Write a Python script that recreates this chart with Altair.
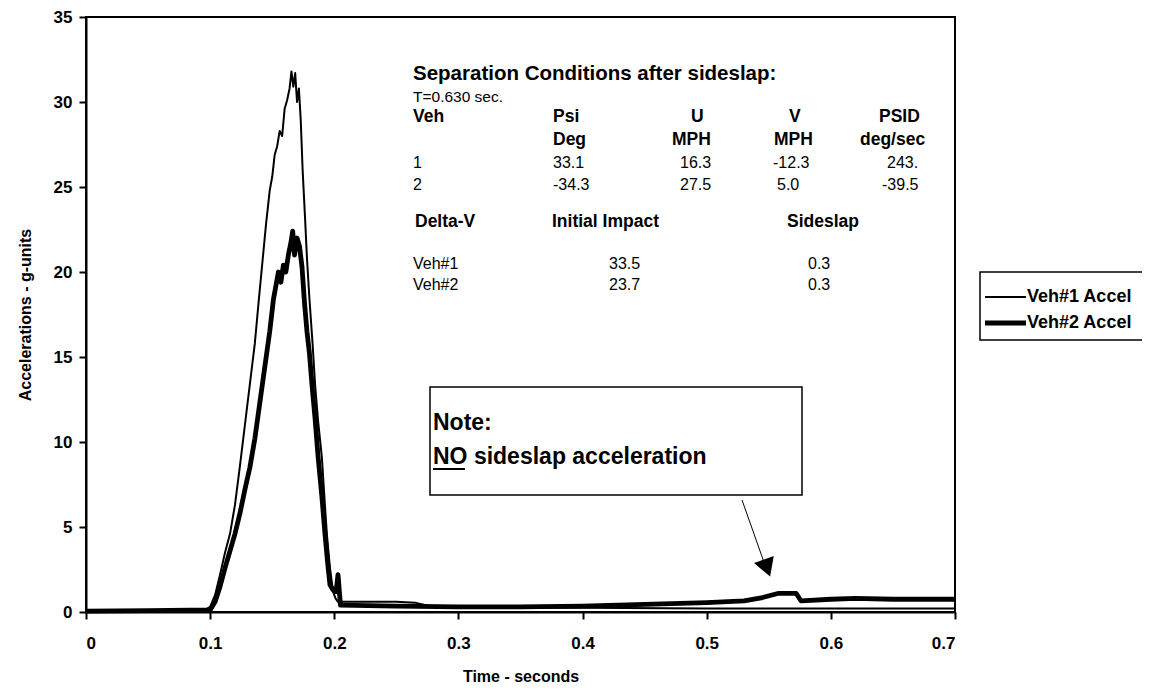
import altair as alt
import pandas as pd

FONT = "Liberation Sans"

# ---------------- data ----------------
veh1_t = [0.0, 0.05, 0.095, 0.1, 0.104, 0.108, 0.112, 0.116, 0.12, 0.124, 0.128, 0.132, 0.136,
          0.139, 0.142, 0.145, 0.148, 0.150, 0.152, 0.154, 0.156, 0.158, 0.160, 0.162, 0.164,
          0.1655, 0.167, 0.1685, 0.170, 0.1715, 0.173, 0.1745, 0.1765, 0.178, 0.180, 0.1825,
          0.1845, 0.187, 0.190, 0.192, 0.194, 0.1965, 0.199, 0.201, 0.203, 0.22, 0.25, 0.265,
          0.28, 0.3, 0.4, 0.5, 0.6, 0.7]
veh1_g = [0.05, 0.08, 0.1, 0.3, 1.0, 2.2, 3.5, 4.6, 6.3, 8.6, 11.0, 13.4, 15.8,
          18.2, 20.5, 22.8, 24.8, 25.6, 26.9, 27.4, 28.3, 28.0, 29.6, 30.1, 30.8,
          31.8, 30.9, 31.7, 30.0, 30.8, 28.9, 26.0, 23.1, 20.8, 18.4, 15.8,
          13.4, 11.2, 9.1, 6.8, 4.6, 2.6, 1.2, 0.8, 0.6, 0.6, 0.6, 0.55,
          0.3, 0.25, 0.25, 0.2, 0.2, 0.2]

veh2_t = [0.0, 0.05, 0.1, 0.104, 0.108, 0.112, 0.116, 0.120, 0.124, 0.128, 0.132, 0.136,
          0.140, 0.144, 0.148, 0.151, 0.153, 0.155, 0.157, 0.159, 0.161, 0.163, 0.165,
          0.1665, 0.168, 0.170, 0.172, 0.174, 0.176, 0.178, 0.180, 0.182, 0.1845, 0.187,
          0.190, 0.1925, 0.1945, 0.1965, 0.199, 0.2015, 0.203, 0.205, 0.25, 0.3, 0.35,
          0.4, 0.45, 0.5, 0.53, 0.545, 0.558, 0.572, 0.576, 0.6, 0.62, 0.65, 0.7]
veh2_g = [0.05, 0.08, 0.12, 0.6, 1.5, 2.6, 3.6, 4.6, 5.8, 7.2, 8.5, 10.2,
          12.3, 14.4, 16.5, 18.4, 19.2, 20.0, 19.4, 20.4, 20.0, 21.0, 21.7,
          22.4, 21.0, 22.0, 21.5, 20.3, 18.2, 16.5, 15.2, 13.4, 11.4, 9.1,
          6.8, 4.6, 3.0, 1.6, 1.3, 1.2, 2.2, 0.4, 0.35, 0.3, 0.3,
          0.35, 0.45, 0.55, 0.65, 0.85, 1.1, 1.1, 0.65, 0.75, 0.8, 0.75, 0.75]

series_names = ["Veh#1 Accel", "Veh#2 Accel"]

x_ticks = [0, 0.1, 0.2, 0.3, 0.4, 0.5, 0.6, 0.7]
y_ticks = [0, 5, 10, 15, 20, 25, 30, 35]

sep_title = "Separation Conditions after sideslap:"
sep_time = "T=0.630 sec."
sep_head1 = ["Veh", "Psi", "U", "V", "PSID"]
sep_head2 = ["", "Deg", "MPH", "MPH", "deg/sec"]
sep_row1 = ["1", "33.1", "16.3", "-12.3", "243."]
sep_row2 = ["2", "-34.3", "27.5", "5.0", "-39.5"]
dv_head = ["Delta-V", "Initial Impact", "Sideslap"]
dv_row1 = ["Veh#1", "33.5", "0.3"]
dv_row2 = ["Veh#2", "23.7", "0.3"]
note_line1 = "Note:"
note_line2_u = "NO"
note_line2_rest = " sideslap acceleration"

df = pd.concat([
    pd.DataFrame({"t": veh1_t, "g": veh1_g, "series": series_names[0]}),
    pd.DataFrame({"t": veh2_t, "g": veh2_g, "series": series_names[1]}),
])

W, H = 869, 595
TOP = 9
# annotation y positions below were measured for a plot top at page y=13
DY = -4

lines = alt.Chart(df).mark_line(color="black", strokeJoin="round").encode(
    x=alt.X("t:Q", scale=alt.Scale(domain=[0, 0.7], nice=False),
            axis=alt.Axis(values=x_ticks, format="~g", title="Time - seconds",
                          labelPadding=16, titlePadding=17)),
    y=alt.Y("g:Q", scale=alt.Scale(domain=[0, 35], nice=False),
            axis=alt.Axis(values=y_ticks, title="Accelerations - g-units",
                          labelPadding=7, titlePadding=20)),
    strokeWidth=alt.StrokeWidth("series:N",
                                scale=alt.Scale(domain=series_names, range=[2, 4.8]),
                                legend=None),
    detail="series:N",
)

empty = alt.Data(values=[{"a": 1}])


def txt(s, x, y, size, bold=True, align="left"):
    return alt.Chart(empty).mark_text(
        text=s, align=align, baseline="middle", fontSize=size,
        fontWeight="bold" if bold else "normal", font=FONT, color="black"
    ).encode(x=alt.value(x), y=alt.value(y + DY))


def rule(x1, x2, y1, y2, w):
    return alt.Chart(empty).mark_rule(color="black", strokeWidth=w).encode(
        x=alt.value(x1), x2=alt.value(x2), y=alt.value(y1 + DY), y2=alt.value(y2 + DY))


def box(x1, x2, y1, y2, w):
    return alt.Chart(empty).mark_rect(fill="white", stroke="black", strokeWidth=w).encode(
        x=alt.value(x1), x2=alt.value(x2), y=alt.value(y1 + DY), y2=alt.value(y2 + DY))


layers = [lines]

# separation table
layers.append(txt(sep_title, 327, 61, 20.5))
layers.append(txt(sep_time, 327, 84, 15.5, bold=False))
col_x = [327, 467, 605, 703, 793]
col_x2 = [327, 467, 586, 688, 774]
for i, s in enumerate(sep_head1):
    layers.append(txt(s, col_x[i], 104, 17.5))
for i, s in enumerate(sep_head2):
    if s:
        layers.append(txt(s, col_x2[i], 127, 17.5))
row1_x = [327, 467, 594, 687, 801]
row2_x = [327, 467, 594, 691, 796]
for i, s in enumerate(sep_row1):
    layers.append(txt(s, row1_x[i], 150, 16, bold=False))
for i, s in enumerate(sep_row2):
    layers.append(txt(s, row2_x[i], 172, 16, bold=False))
dv_x = [329, 466, 701]
for i, s in enumerate(dv_head):
    layers.append(txt(s, dv_x[i], 209, 17.5))
dvr_x = [327, 523, 722]
for i, s in enumerate(dv_row1):
    layers.append(txt(s, dvr_x[i], 251, 16, bold=False))
for i, s in enumerate(dv_row2):
    layers.append(txt(s, dvr_x[i], 272, 16, bold=False))

# note box
layers.append(box(344, 716, 374, 482, 1.5))
layers.append(txt(note_line1, 347, 410, 23))
layers.append(txt(note_line2_u + note_line2_rest, 347, 444, 23))
layers.append(rule(347, 379, 456, 456, 2))

# arrow
layers.append(rule(656, 679, 487, 552, 1))
layers.append(alt.Chart(empty).mark_point(shape="triangle-down", filled=True, color="black",
                                          opacity=1, size=440, angle=340).encode(
    x=alt.value(681), y=alt.value(555 + DY)))

# legend (manual)
layers.append(box(894, 1080, 259, 327, 1.5))
layers.append(rule(899, 940, 284, 284, 2))
layers.append(rule(899, 940, 310, 310, 4.8))
layers.append(txt(series_names[0], 941, 284, 18))
layers.append(txt(series_names[1], 941, 310, 18))

chart = alt.layer(*layers).properties(
    width=W, height=H,
    autosize=alt.AutoSizeParams(type="none"),
    padding={"left": 78, "top": TOP, "right": 187, "bottom": 84},
).configure_view(
    stroke="black", strokeWidth=2
).configure_axis(
    grid=False, domainColor="black", domainWidth=2, tickColor="black", tickWidth=2,
    tickSize=7, labelFont=FONT, labelFontSize=17, labelFontWeight="bold", labelColor="black",
    titleFont=FONT, titleFontSize=16, titleFontWeight="bold", titleColor="black"
)

chart.save("out.html", embed_options={"renderer": "svg", "actions": False})
